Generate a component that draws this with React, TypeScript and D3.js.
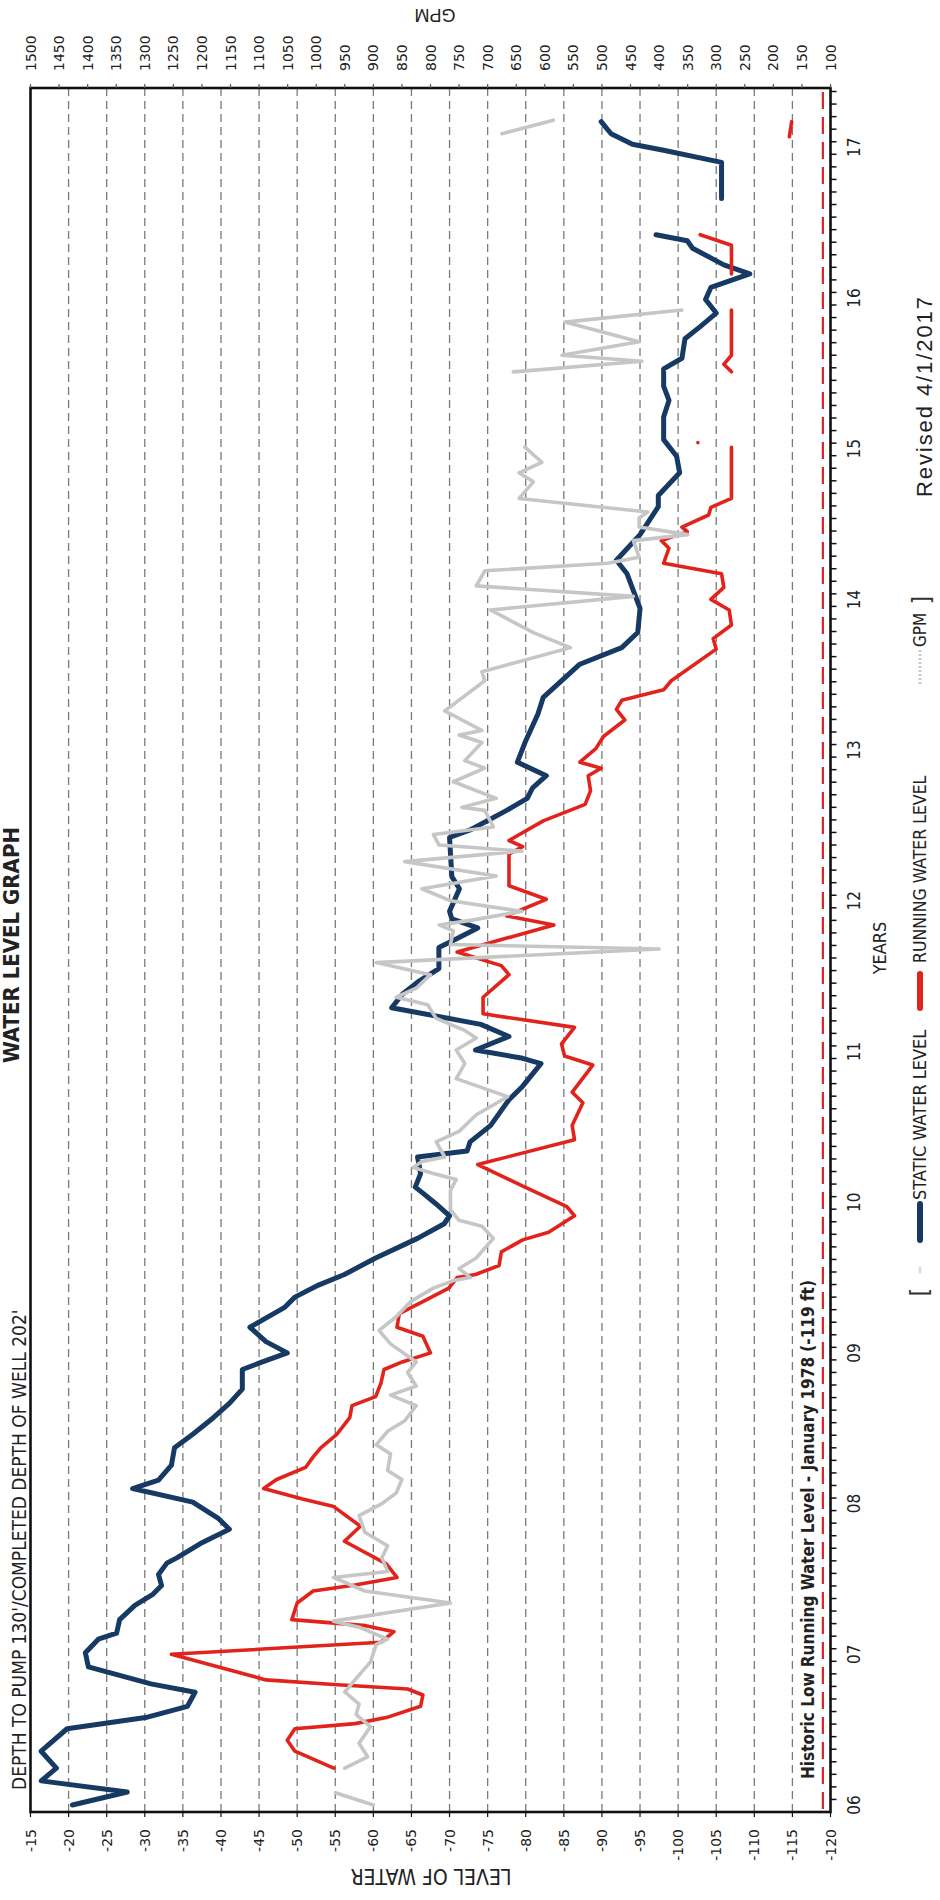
import React from 'react';
import * as d3 from 'd3';

// ---------- DATA ----------
const YEAR_LABELS = ['06', '07', '08', '09', '10', '11', '12', '13', '14', '15', '16', '17'];
const LEVEL_TICKS = [-15, -20, -25, -30, -35, -40, -45, -50, -55, -60, -65, -70, -75, -80, -85, -90, -95, -100, -105, -110, -115, -120];
const GPM_TICKS = [1500, 1450, 1400, 1350, 1300, 1250, 1200, 1150, 1100, 1050, 1000, 950, 900, 850, 800, 750, 700, 650, 600, 550, 500, 450, 400, 350, 300, 250, 200, 150, 100];
const HISTORIC_LOW = -119;

// [year, level ft]  (NaN = gap)
const STATIC_LEVEL: [number, number][] = [
  [2006.0, -20.5], [2006.086, -27.7], [2006.16, -16.4], [2006.245, -18.4], [2006.357, -16.4], [2006.506, -19.8],
  [2006.58, -30.1], [2006.655, -35.6], [2006.748, -36.6], [2006.804, -30.8], [2006.916, -22.6], [2007.01, -22.2],
  [2007.1, -23.9], [2007.14, -26.3], [2007.23, -26.7], [2007.325, -28.7], [2007.4, -31.1], [2007.456, -32.2],
  [2007.53, -31.8], [2007.605, -32.9], [2007.64, -34.2], [2007.735, -37.3], [2007.83, -41.1], [2007.9, -39.7],
  [2008.01, -36.3], [2008.1, -28.4], [2008.156, -31.8], [2008.256, -33.5], [2008.37, -33.9], [2008.46, -36.3],
  [2008.57, -39.0], [2008.665, -41.1], [2008.76, -42.8], [2008.89, -42.8], [2008.93, -44.9], [2009.0, -48.7],
  [2009.075, -45.9], [2009.17, -43.8], [2009.3, -48.3], [2009.37, -49.7], [2009.45, -52.8], [2009.52, -56.2],
  [2009.63, -60.3], [2009.76, -65.8], [2009.857, -69.3], [2009.91, -70.0], [2009.99, -68.2], [2010.06, -66.5],
  [2010.1, -65.5], [2010.19, -66.2], [2010.3, -65.8], [2010.34, -72.3], [2010.4, -72.7], [2010.51, -75.4],
  [2010.68, -77.8], [2010.77, -79.6], [2010.92, -82.0], [2010.955, -79.6], [2011.01, -73.4], [2011.1, -77.8],
  [2011.18, -74.1], [2011.29, -62.4], [2011.38, -63.8], [2011.46, -65.8], [2011.55, -68.6], [2011.69, -68.6],
  [2011.75, -71.0], [2011.82, -73.7], [2011.88, -70.3], [2011.93, -70.0], [2012.08, -71.3], [2012.16, -70.3],
  [2012.42, -70.0], [2012.47, -72.7], [2012.6, -77.5], [2012.68, -80.2], [2012.75, -80.9], [2012.83, -82.7],
  [2012.92, -78.9], [2013.05, -79.9], [2013.24, -81.6], [2013.35, -82.3], [2013.57, -87.1], [2013.68, -92.6],
  [2013.78, -94.7], [2013.94, -95.0], [2014.17, -93.3], [2014.26, -91.9], [2014.43, -95.0], [2014.615, -97.4],
  [2014.69, -97.4], [2014.84, -100.2], [2014.95, -99.8], [2015.06, -98.1], [2015.21, -98.1], [2015.32, -98.8],
  [2015.415, -98.1], [2015.53, -98.1], [2015.6, -100.5], [2015.73, -100.9], [2015.81, -102.9], [2015.9, -105.0],
  [2015.99, -103.6], [2016.07, -104.3], [2016.16, -109.4], [2016.22, -106.0], [2016.33, -101.9], [2016.38, -101.2],
  [2016.42, -97.1], [2016.5, NaN],
  [2016.66, -105.7], [2016.9, -105.7], [2016.98, -98.1], [2017.02, -94.0], [2017.09, -91.2], [2017.17, -89.9],
];

const RUNNING_LEVEL: [number, number][] = [
  [2006.245, -54.8], [2006.357, -49.7], [2006.43, -48.7], [2006.506, -49.7], [2006.54, -57.6], [2006.58, -61.7],
  [2006.655, -66.2], [2006.73, -66.5], [2006.77, -64.5], [2006.8, -54.8], [2006.83, -45.9], [2007.0, -33.5],
  [2007.08, -61.0], [2007.15, -62.7], [2007.19, -59.0], [2007.23, -49.3], [2007.34, -50.0], [2007.42, -52.1],
  [2007.46, -57.6], [2007.51, -63.1], [2007.6, -61.7], [2007.75, -56.2], [2007.85, -58.3], [2007.98, -54.8],
  [2008.03, -50.7], [2008.1, -45.6], [2008.16, -47.3], [2008.24, -51.1], [2008.31, -52.1], [2008.37, -53.1],
  [2008.46, -55.2], [2008.57, -56.9], [2008.65, -57.2], [2008.71, -60.3], [2008.8, -61.0], [2008.89, -61.4],
  [2008.94, -63.8], [2009.0, -67.5], [2009.11, -66.5], [2009.17, -63.1], [2009.26, -63.4], [2009.34, -66.5],
  [2009.43, -69.9], [2009.5, -71.0], [2009.52, -73.4], [2009.58, -76.5], [2009.67, -76.8], [2009.75, -79.6],
  [2009.8, -83.0], [2009.91, -86.4], [2009.97, -85.4], [2010.1, -79.9], [2010.25, -73.7], [2010.415, -86.4],
  [2010.51, -86.1], [2010.66, -87.5], [2010.73, -86.1], [2010.91, -88.8], [2010.97, -85.1], [2011.05, -84.7],
  [2011.16, -86.4], [2011.25, -74.4], [2011.36, -74.4], [2011.51, -77.8], [2011.57, -76.8], [2011.66, -71.0],
  [2011.84, -83.7], [2011.9, -77.5], [2012.01, -82.7], [2012.1, -77.8], [2012.31, -77.8], [2012.36, -79.6],
  [2012.4, -77.8], [2012.53, -82.3], [2012.64, -87.8], [2012.73, -88.5], [2012.83, -88.2], [2012.88, -89.9],
  [2012.92, -87.1], [2013.01, -89.2], [2013.09, -90.2], [2013.2, -93.0], [2013.27, -91.9], [2013.33, -92.6],
  [2013.4, -98.1], [2013.46, -99.1], [2013.67, -105.0], [2013.74, -104.6], [2013.83, -107.0], [2013.93, -106.7],
  [2014.0, -104.3], [2014.08, -106.0], [2014.17, -105.7], [2014.24, -98.1], [2014.34, -98.8], [2014.39, -97.8],
  [2014.45, -101.2], [2014.48, -100.5], [2014.56, -104.0], [2014.61, -104.3], [2014.67, -107.0], [2015.01, -107.0],
  [2015.02, NaN], [2015.04, -102.6], [2015.06, NaN],
  [2015.51, -107.0], [2015.56, -106.0], [2015.62, -107.0], [2015.92, -107.0], [2016.0, NaN],
  [2016.16, -107.0], [2016.35, -107.0], [2016.42, -102.9], [2016.6, NaN],
  [2017.07, -114.6], [2017.17, -114.9],
];

// [year, GPM]  (right axis)
const GPM_FLOW: [number, number][] = [
  [2006.0, 900], [2006.08, 965], [2006.15, NaN],
  [2006.245, 950], [2006.32, 910], [2006.41, 925], [2006.52, 905], [2006.6, 930], [2006.67, 925], [2006.75, 950],
  [2006.84, 930], [2006.95, 905], [2007.065, 895], [2007.1, 875], [2007.18, 925], [2007.22, 970], [2007.34, 765],
  [2007.42, 915], [2007.51, 970], [2007.55, 875], [2007.64, 885], [2007.72, 875], [2007.81, 915], [2007.92, 925],
  [2008.0, 885], [2008.07, 860], [2008.16, 850], [2008.22, 875], [2008.33, 870], [2008.39, 895], [2008.48, 875],
  [2008.55, 845], [2008.65, 825], [2008.72, 870], [2008.78, 825], [2008.87, 840], [2008.94, 825], [2009.06, 870],
  [2009.15, 890], [2009.24, 860], [2009.34, 835], [2009.43, 795], [2009.48, 760], [2009.5, 730], [2009.56, 750],
  [2009.63, 720], [2009.76, 690], [2009.84, 710], [2009.88, 750], [2009.95, 765], [2010.08, 765], [2010.15, 755],
  [2010.19, 795], [2010.23, 830], [2010.27, 815], [2010.3, 775], [2010.4, 790], [2010.47, 750], [2010.58, 720],
  [2010.7, 665], [2010.76, 710], [2010.82, 755], [2010.92, 740], [2011.01, 755], [2011.09, 720], [2011.14, 740],
  [2011.22, 790], [2011.31, 805], [2011.36, 860], [2011.42, 825], [2011.51, 800], [2011.59, 895], [2011.68, 400],
  [2011.71, 765], [2011.8, 760], [2011.84, 785], [2011.87, 730], [2011.93, 640], [2012.0, 765], [2012.08, 815],
  [2012.165, 685], [2012.26, 845], [2012.33, 640], [2012.37, 785], [2012.44, 795], [2012.49, 690], [2012.6, 705],
  [2012.62, 745], [2012.68, 685], [2012.79, 760], [2012.88, 705], [2012.93, 740], [2013.05, 710], [2013.1, 750],
  [2013.13, 710], [2013.26, 775], [2013.46, 705], [2013.52, 710], [2013.68, 555], [2013.78, 620], [2013.93, 695],
  [2014.02, 445], [2014.09, 720], [2014.19, 705], [2014.24, 490], [2014.28, 435], [2014.39, 445], [2014.43, 350],
  [2014.48, 435], [2014.54, 435], [2014.58, 420], [2014.67, 645], [2014.78, 620], [2014.84, 645], [2014.91, 605],
  [2015.01, 635], [2015.2, NaN],
  [2015.51, 655], [2015.58, 430], [2015.62, 570], [2015.71, 435], [2015.84, 565], [2015.92, 360], [2016.2, NaN],
  [2017.09, 675], [2017.18, 585],
];

// ---------- LAYOUT ----------
const W = 940;
const H = 1900;
const LEFT = 30.5;
const RIGHT = 830.5;
const TOP = 88;
const BOTTOM = 1812;

const NARROW = "'Liberation Sans Narrow', 'DejaVu Sans Condensed', 'Arial Narrow', sans-serif";
const SANS = "'DejaVu Sans', Verdana, sans-serif";
const ARIAL = "'Liberation Sans', Arial, sans-serif";

export default function App() {
  const x = d3.scaleLinear().domain([-15, -120]).range([LEFT, RIGHT]);
  const xg = d3.scaleLinear().domain([1500, 100]).range([LEFT, RIGHT]);
  const y = d3.scaleLinear().domain([2006, 2017]).range([1805, 147.3]);

  const tStart = y.invert(BOTTOM);
  const tEnd = y.invert(TOP);
  const monthTicks: number[] = [];
  for (let k = 1; tStart + k / 12 < tEnd; k++) monthTicks.push(tStart + k / 12);

  const levelLine = d3
    .line<[number, number]>()
    .defined((d) => !isNaN(d[1]))
    .x((d) => x(d[1]))
    .y((d) => y(d[0]));
  const gpmLine = d3
    .line<[number, number]>()
    .defined((d) => !isNaN(d[1]))
    .x((d) => xg(d[1]))
    .y((d) => y(d[0]));

  const rot = (px: number, py: number, a = -90) => `translate(${px},${py}) rotate(${a})`;

  return (
    <svg
      width={W}
      height={H}
      style={{ position: 'absolute', left: 0, top: 0, background: '#fff' }}
    >
      <rect x={0} y={0} width={W} height={H} fill="#fff" />

      {/* title (at page edge) */}
      <text
        transform={rot(19, 945)}
        textAnchor="middle"
        fontFamily={NARROW}
        fontWeight="bold"
        fontSize={22}
        fill="#222"
      >
        WATER LEVEL GRAPH
      </text>

      {/* gridlines */}
      {LEVEL_TICKS.filter((v) => v !== -15 && v !== -120).map((v) => (
        <line
          key={'g' + v}
          x1={x(v)}
          x2={x(v)}
          y1={TOP}
          y2={BOTTOM}
          stroke="#7a7a7a"
          strokeWidth={1.3}
          strokeDasharray="8 5"
        />
      ))}

      {/* historic low line */}
      <line
        x1={x(HISTORIC_LOW)}
        x2={x(HISTORIC_LOW)}
        y1={TOP + 4}
        y2={BOTTOM}
        stroke="#d8262c"
        strokeWidth={2.2}
        strokeDasharray="17 8"
      />

      {/* series */}
      <path d={levelLine(STATIC_LEVEL) || ''} fill="none" stroke="#163a63" strokeWidth={5} strokeLinejoin="round" strokeLinecap="round" />
      <path d={levelLine(RUNNING_LEVEL) || ''} fill="none" stroke="#e2231b" strokeWidth={3.6} strokeLinejoin="round" strokeLinecap="round" />
      <path d={gpmLine(GPM_FLOW) || ''} fill="none" stroke="#c6c6c6" strokeWidth={3.6} strokeLinejoin="round" strokeLinecap="round" />

      {/* frame */}
      <rect x={LEFT} y={TOP} width={RIGHT - LEFT} height={BOTTOM - TOP} fill="none" stroke="#111" strokeWidth={2.6} />

      {/* month ticks on time axis */}
      {monthTicks.map((t, i) => (
        <line key={'m' + i} x1={RIGHT} x2={RIGHT + 6} y1={y(t)} y2={y(t)} stroke="#111" strokeWidth={1.5} />
      ))}

      {/* year labels */}
      {YEAR_LABELS.map((lab, i) => (
        <text
          key={'y' + lab}
          transform={rot(854, y(2006 + i))}
          textAnchor="middle"
          dominantBaseline="central"
          fontFamily={NARROW}
          fontSize={17}
          fill="#222"
        >
          {lab}
        </text>
      ))}

      {/* level axis ticks and labels */}
      {LEVEL_TICKS.map((v) => (
        <g key={'l' + v}>
          <line x1={x(v)} x2={x(v)} y1={BOTTOM} y2={BOTTOM + 5} stroke="#111" strokeWidth={1.2} />
          <text
            transform={rot(x(v), 1829)}
            textAnchor="end"
            dominantBaseline="central"
            fontFamily={SANS}
            fontSize={14}
            fill="#222"
          >
            {v}
          </text>
        </g>
      ))}

      {/* GPM axis ticks and labels */}
      {GPM_TICKS.map((v) => (
        <g key={'q' + v}>
          <line x1={xg(v)} x2={xg(v)} y1={TOP} y2={TOP - 4} stroke="#555" strokeWidth={1.2} />
          <text
            transform={rot(xg(v), 71)}
            textAnchor="start"
            dominantBaseline="central"
            fontFamily={SANS}
            fontSize={14}
            fill="#222"
          >
            {v}
          </text>
        </g>
      ))}

      {/* axis titles */}
      <text transform={rot(431, 1876, 180)} textAnchor="middle" dominantBaseline="central" fontFamily={NARROW} fontSize={21} fill="#222">
        LEVEL OF WATER
      </text>
      <text transform={rot(435, 15, 180)} textAnchor="middle" dominantBaseline="central" fontFamily={ARIAL} fontSize={18} fill="#222">
        GPM
      </text>
      <text transform={rot(886, 948)} textAnchor="middle" fontFamily={NARROW} fontSize={18} fill="#222">
        YEARS
      </text>

      {/* annotations */}
      <text transform={rot(25.5, 1790)} textAnchor="start" fontFamily={NARROW} fontSize={19} fill="#222">
        DEPTH TO PUMP 130'/COMPLETED DEPTH OF WELL 202'
      </text>
      <text transform={rot(814, 1779)} textAnchor="start" fontFamily={NARROW} fontWeight="bold" fontSize={17} fill="#222">
        Historic Low Running Water Level - January 1978 (-119 ft)
      </text>

      {/* legend */}
      <text transform={rot(928, 1292)} textAnchor="middle" fontFamily={NARROW} fontSize={24} fill="#333">[</text>
      <line x1={920} x2={920} y1={1268} y2={1272} stroke="#ddd" strokeWidth={3} strokeLinecap="round" />
      <line x1={920} x2={920} y1={1204} y2={1240} stroke="#163a63" strokeWidth={6} strokeLinecap="round" />
      <text transform={rot(926, 1200)} textAnchor="start" fontFamily={NARROW} fontSize={18} fill="#222">
        STATIC WATER LEVEL
      </text>
      <line x1={920} x2={920} y1={974} y2={1008} stroke="#e2231b" strokeWidth={6} strokeLinecap="round" />
      <text transform={rot(926, 963)} textAnchor="start" fontFamily={NARROW} fontSize={17.5} fill="#222">
        RUNNING WATER LEVEL
      </text>
      <line x1={920} x2={920} y1={650} y2={684} stroke="#c9c9c9" strokeWidth={3} strokeDasharray="2 2" />
      <text transform={rot(926, 647)} textAnchor="start" fontFamily={NARROW} fontSize={17} fill="#222">
        GPM
      </text>
      <text transform={rot(930, 600)} textAnchor="middle" fontFamily={NARROW} fontSize={24} fill="#333">]</text>

      <text
        transform={rot(932, 497)}
        textAnchor="start"
        fontFamily={ARIAL}
        fontSize={22}
        textLength={200}
        lengthAdjust="spacing"
        fill="#222"
      >
        Revised 4/1/2017
      </text>
    </svg>
  );
}
